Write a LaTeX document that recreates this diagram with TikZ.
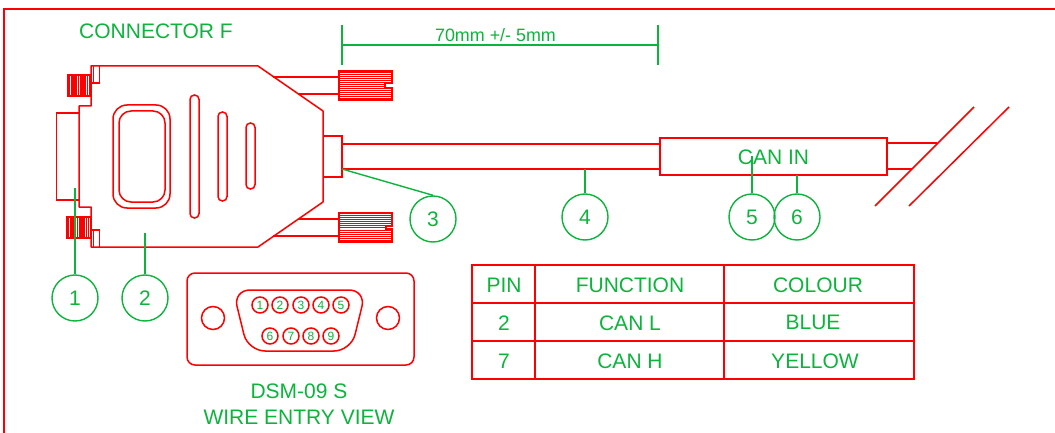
\documentclass[tikz,border=0pt]{standalone}
\usepackage{fontspec}
\setmainfont{Liberation Sans}
\definecolor{dgreen}{RGB}{12,180,60}
\tikzset{
  x=1pt,y=-1pt,
  redline/.style={draw=red,line width=1.5pt},
  thin red/.style={draw=red,line width=0.9pt},
  stripe/.style={draw=red,line width=1.3pt},
  hstripe/.style={draw=red,line width=1pt},
  grn/.style={draw=dgreen,line width=1.4pt},
  lbl/.style={text=dgreen,font=\fontsize{21}{23}\selectfont,inner sep=0pt},
  bubble/.style={circle,draw=dgreen,line width=1.4pt,minimum size=46pt,inner sep=0pt,text=dgreen,font=\fontsize{21}{23}\selectfont},
  pinc/.style={circle,draw=red,line width=1.5pt,minimum size=16pt,inner sep=0pt,text=dgreen,font=\fontsize{12}{13}\selectfont},
  hole/.style={circle,draw=red,line width=1.5pt,minimum size=23pt,inner sep=0pt},
  cell/.style={text=dgreen,font=\fontsize{21}{23}\selectfont,inner sep=0pt}
}
\begin{document}
\begin{tikzpicture}
\useasboundingbox (0,0) rectangle (1055,433);
% frame
\draw[redline] (4,433) -- (4,9) -- (1055,9);
% connector body
\draw[redline,line join=round] (91,66) -- (258,66) -- (323,111) -- (323,202) -- (258,247) -- (91,247) -- (91,207) -- (79,207) -- (79,106) -- (91,106) -- cycle;
\draw[redline] (79,113) -- (56.5,113) -- (56.5,200) -- (79,200);
\draw[redline] (91,83) -- (99.5,83) -- (99.5,66);
\draw[thin red] (93.5,66) -- (93.5,83);
\draw[redline] (91,230) -- (99.5,230) -- (99.5,247);
\draw[thin red] (93.5,230) -- (93.5,247);
% left screws
\draw[redline] (68,75) rectangle (91,96);
\foreach \i in {69.5,71.3,...,90}{\draw[stripe] (\i,75) -- (\i,96);}
\draw[redline] (67,217) rectangle (91,238);
\foreach \i in {68.5,70.3,...,90}{\draw[stripe] (\i,217) -- (\i,238);}
% window and slots
\draw[redline,rounded corners=14pt] (113,105) rectangle (170,208);
\draw[redline,rounded corners=12pt] (119,111) rectangle (165,202);
\draw[redline,rounded corners=4.4pt] (190,95) rectangle (199,218);
\draw[redline,rounded corners=4.4pt] (218,112) rectangle (227,201);
\draw[redline,rounded corners=4.4pt] (246,123) rectangle (255,189);
% right screws
\draw[redline] (273,77) -- (339,77) (298,94) -- (339,94);
\draw[redline] (298,219) -- (339,219) (273,236) -- (339,236);
\foreach \i in {73,75,...,81}{\draw[hstripe] (339,\i) -- (392,\i);}
\foreach \i in {83,85,87}{\draw[hstripe] (339,\i) -- (385,\i);}
\foreach \i in {89,91,...,99}{\draw[hstripe] (339,\i) -- (392,\i);}
\draw[redline] (339,71) -- (392,71) -- (392,83) -- (385,83) -- (385,88) -- (392,88) -- (392,100) -- (339,100) -- cycle;
\foreach \i in {215,217,...,225}{\draw[hstripe] (339,\i) -- (392,\i);}
\foreach \i in {227}{\draw[hstripe] (339,\i) -- (386,\i);}
\foreach \i in {230,232,...,240}{\draw[hstripe] (339,\i) -- (392,\i);}
\draw[redline] (339,213) -- (392,213) -- (392,226) -- (386,226) -- (386,229) -- (392,229) -- (392,242) -- (339,242) -- cycle;
% collar and cable
\draw[redline] (323,136) -- (342,136) -- (342,177) -- (323,177);
\draw[redline] (342,144) -- (660,144) (342,169) -- (660,169);
% CAN IN box
\draw[redline] (660,138) rectangle (887,175);
\draw[redline] (887,143) -- (937,143) (887,169) -- (912,169);
\draw[redline] (875,206) -- (974,107) (909,206) -- (1009,107);
% dimension
\draw[grn] (342,25) -- (342,65) (658,25) -- (658,65) (342,45) -- (658,45);
\node[lbl,font=\fontsize{17.9}{20}\selectfont] (dim) at (495.5,35) {70mm +/- 5mm};
\node[lbl] (title) at (156,31) {CONNECTOR F};
\node[lbl] (canin) at (773.5,157) {CAN IN};
% callouts
\node[bubble] (c1) at (75,298) {1};
\node[bubble] (c2) at (145,298) {2};
\node[bubble] (c3) at (433,219) {3};
\node[bubble] (c4) at (585,217) {4};
\node[bubble] (c5) at (752,217) {5};
\node[bubble] (c6) at (797,217) {6};
\coordinate (t1) at (75,188);
\coordinate (t2) at (145,233);
\coordinate (t3) at (342,169);
\coordinate (t4) at (585,169);
\coordinate (t5) at (752,156);
\coordinate (t6) at (797,175);
\draw[grn] (c1.north) -- (t1);
\draw[grn] (c2.north) -- (t2);
\draw[grn] (c3.north) -- (t3);
\draw[grn] (c4.north) -- (t4);
\draw[grn] (c5.north) -- (t5);
\draw[grn] (c6.north) -- (t6);
% D-sub face
\draw[redline,rounded corners=8pt] (187,273) rectangle (414,365);
\node[hole] (h1) at (213,318) {};
\node[hole] (h2) at (388,318) {};
\draw[redline,rounded corners=17pt] (233,290) -- (366,290) -- (351,351) -- (248,351) -- cycle;
\foreach \n/\x in {1/260,2/280,3/301,4/321,5/341}{\node[pinc] (p\n) at (\x,305) {\n};}
\foreach \n/\x in {6/270,7/291,8/311,9/331}{\node[pinc] (p\n) at (\x,336) {\n};}
\node[lbl] (d1) at (299,391) {DSM-09 S};
\node[lbl] (d2) at (299,417) {WIRE ENTRY VIEW};
% table
\draw[redline] (472,265) rectangle (914,379);
\draw[redline] (472,303) -- (914,303) (472,341) -- (914,341);
\draw[redline] (535,265) -- (535,379) (724,265) -- (724,379);
\node[cell] (a1) at (504,285) {PIN};
\node[cell] (a2) at (630,285) {FUNCTION};
\node[cell] (a3) at (818,285) {COLOUR};
\node[cell] (b1) at (504,323) {2};
\node[cell] (b2) at (630,323) {CAN L};
\node[cell] (b3) at (813,322) {BLUE};
\node[cell] (e1) at (504,361) {7};
\node[cell] (e2) at (630,361) {CAN H};
\node[cell] (e3) at (815,361) {YELLOW};
\end{tikzpicture}
\end{document}
